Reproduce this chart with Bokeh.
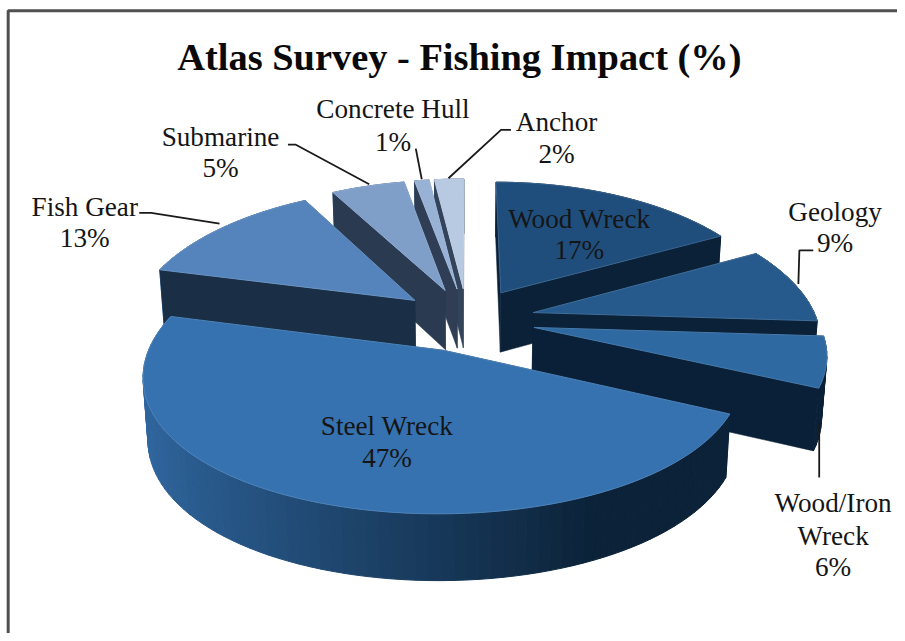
import math
from bokeh.plotting import figure
from bokeh.models import ColumnDataSource, Range1d
from bokeh.core.properties import value
from bokeh.embed import file_html
from bokeh.resources import INLINE

# ---- data ----
names = ["Wood Wreck", "Geology", "Wood/Iron Wreck", "Steel Wreck", "Fish Gear", "Submarine", "Concrete Hull", "Anchor"]
percent = [17, 9, 6, 47, 13, 5, 1, 2]
top_colors = ["#1f4e7d", "#265a8c", "#2e69a1", "#3672b0", "#5484bb", "#7f9fc9", "#98b2d6", "#b8c9e2"]
wall_colors = ["#0a2138", "#0a2138", "#0a2038", "#0b2238", "#1a2e46", "#2a3a50", "#2f3e54", "#33435a"]
title_text = "Atlas Survey - Fishing Impact (%)"

# ---- layout of the 3D projection ----
# The figure fits the window (8px page margin); the range keeps the 905x641 design units.
W, H = 897, 633
DESIGN_W, DESIGN_H = 905, 641
CX, CY = 471.0, 323.0
R, K = 286.0, 134.0
PERSP_X, PERSP_Y = 0.17, 0.135
EXPLODE = 0.24
WALL = 61.0
STRIP_DEG = 2.0

label_lines = {
    "Wood Wreck": [(584, 221), (584, 253)],
    "Geology": [(842, 214), (842, 246)],
    "Wood/Iron Wreck": [(840, 509), (840, 542), (840, 574)],
    "Steel Wreck": [(390, 431), (390, 463)],
    "Fish Gear": [(85, 209), (85, 241)],
    "Submarine": [(222, 138), (222, 170)],
    "Concrete Hull": [(396, 110), (396, 143)],
    "Anchor": [(561, 123), (561, 155)],
}
leaders = [
    ([140, 152, 221], [215, 215, 226]),
    ([290, 298, 372], [146, 146, 186]),
    ([419, 425], [150, 181]),
    ([515, 505, 452], [131, 131, 180]),
    ([820, 806, 805], [253, 253, 287]),
    ([826, 826], [428, 483]),
]


def top_pt(u, d):
    return CX + R * u / (1.0 + PERSP_X * d), CY - K * d / (1.0 + PERSP_Y * d)


def bottom_pt(u, d):
    x, y = top_pt(u, d)
    return CX + (x - CX) * 0.985, y + WALL / (1.0 + 0.08 * d)


def hex_rgb(c):
    return tuple(int(c[i:i + 2], 16) for i in (1, 3, 5))


def mix(a, b, t):
    ra, rb = hex_rgb(a), hex_rgb(b)
    return "#%02x%02x%02x" % tuple(round(x + (y - x) * t) for x, y in zip(ra, rb))


def arc_shade(top, wall, s):
    t = 0.12 + 0.88 * (s + 1.0) / 1.45 if s < 0.45 else 1.0
    return mix(top, wall, t)


slices = []
start = 0.0
total = sum(percent)
for i, v in enumerate(percent):
    a0 = start / total * 2 * math.pi
    a1 = (start + v) / total * 2 * math.pi
    mid = (a0 + a1) / 2
    slices.append(dict(i=i, a0=a0, a1=a1, ou=EXPLODE * math.sin(mid), od=EXPLODE * math.cos(mid)))
    start += v

xs, ys, fills, lines, widths = [], [], [], [], []


def add(px, py, fill, line, width):
    xs.append(px); ys.append(py); fills.append(fill); lines.append(line); widths.append(width)


def quad(p1, p2):
    t1, t2 = top_pt(*p1), top_pt(*p2)
    b1, b2 = bottom_pt(*p1), bottom_pt(*p2)
    return [t1[0], t2[0], b2[0], b1[0]], [t1[1], t2[1], b2[1], b1[1]]


for s in sorted(slices, key=lambda q: -q["od"]):
    i = s["i"]
    n = max(2, int(math.degrees(s["a1"] - s["a0"]) / STRIP_DEG))
    angles = [s["a0"] + (s["a1"] - s["a0"]) * k / n for k in range(n + 1)]
    rim = [(s["ou"] + math.sin(a), s["od"] + math.cos(a)) for a in angles]
    apex = (s["ou"], s["od"])

    # faces: (faces the viewer?, depth, quad, colour)
    faces = []
    n0 = math.sin(s["a0"])
    n1 = -math.sin(s["a1"])
    faces.append((n0 < 0, (apex[1] + rim[0][1]) / 2, quad(apex, rim[0]), wall_colors[i], 0.5))
    faces.append((n1 < 0, (apex[1] + rim[-1][1]) / 2, quad(apex, rim[-1]), wall_colors[i], 0.5))
    for k in range(n):
        am = (angles[k] + angles[k + 1]) / 2
        col = arc_shade(top_colors[3], wall_colors[i], math.sin(am))
        faces.append((math.cos(am) < 0, (rim[k][1] + rim[k + 1][1]) / 2, quad(rim[k], rim[k + 1]), col, 1.0))
    faces.sort(key=lambda f: (f[0], -f[1]))
    for f in faces:
        add(f[2][0], f[2][1], f[3], f[3], f[4])

    # top face
    pts = [top_pt(*apex)] + [top_pt(*q) for q in rim]
    add([q[0] for q in pts], [q[1] for q in pts], top_colors[i], mix(top_colors[i], "#ffffff", 0.12), 1.0)

p = figure(width=W, height=H, x_range=Range1d(0, DESIGN_W), y_range=Range1d(DESIGN_H, 0),
           toolbar_location=None, output_backend="svg", min_border=0,
           background_fill_color="white", border_fill_color="white", outline_line_color=None)
p.xaxis.visible = False
p.yaxis.visible = False
p.xgrid.visible = False
p.ygrid.visible = False

# frame
p.multi_line(xs=[[7.75, 7.75, 905]], ys=[[641, 10.5, 10.5]], line_color="#505050", line_width=3)

p.patches("xs", "ys", source=ColumnDataSource(dict(xs=xs, ys=ys, f=fills, l=lines, w=widths)),
          fill_color="f", line_color="l", line_width="w", line_join="round")

p.multi_line(xs=[q[0] for q in leaders], ys=[q[1] for q in leaders], line_color="#1a1a1a", line_width=1.8)

tx, ty, tt = [], [], []
for name, v in zip(names, percent):
    parts = ["Wood/Iron", "Wreck"] if name == "Wood/Iron Wreck" else [name]
    parts = parts + [f"{v}%"]
    for (x, y), txt in zip(label_lines[name], parts):
        tx.append(x); ty.append(y); tt.append(txt)
p.text(tx, ty, text=tt, text_font=value("Liberation Serif"), text_font_size="27.2px",
       text_align="center", text_baseline="middle", text_color="#151515")
p.text([463], [57], text=[title_text], text_font=value("Liberation Serif"), text_font_size="38.4px",
       text_font_style="bold", text_align="center", text_baseline="middle", text_color="#0a0a0a")

open("out.html", "w").write(file_html(p, INLINE))
